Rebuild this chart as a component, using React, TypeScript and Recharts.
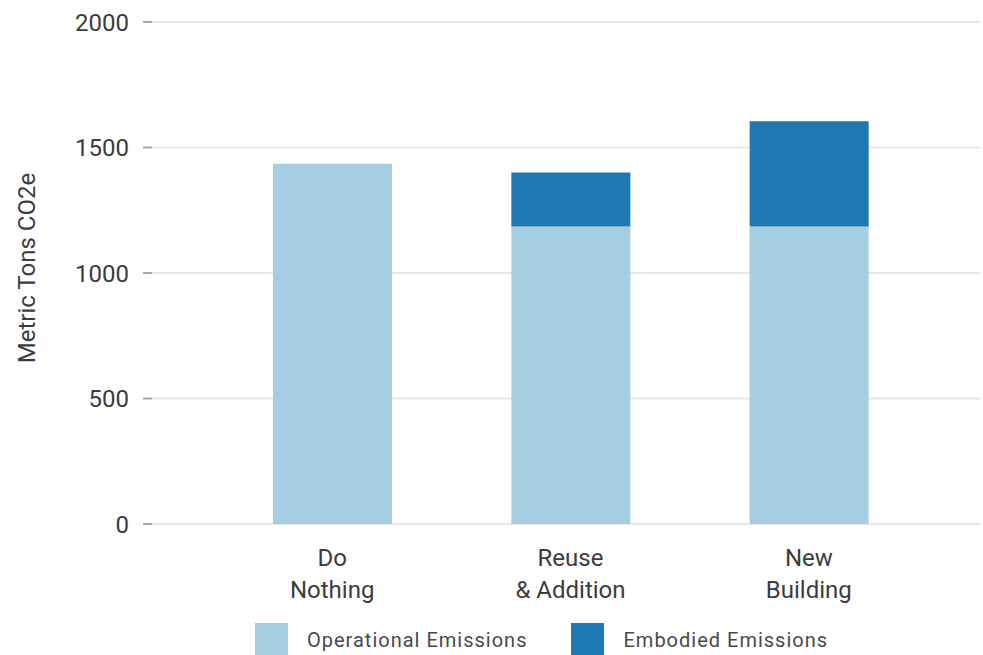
import { BarChart, Bar, XAxis, YAxis, CartesianGrid, Legend } from 'recharts';

const categories = ['Do Nothing', 'Reuse & Addition', 'New Building'];
const categoryLines = [
  ['Do', 'Nothing'],
  ['Reuse', '& Addition'],
  ['New', 'Building'],
];
const operational = [1435, 1185, 1185];
const embodied = [0, 215, 420];
const yTicks = [0, 500, 1000, 1500, 2000];

const series = [
  { key: 'operational', name: 'Operational Emissions', color: '#a6cee3' },
  { key: 'embodied', name: 'Embodied Emissions', color: '#1f78b4' },
];

const data = categories.map((name, i) => ({
  name,
  operational: operational[i],
  embodied: embodied[i],
}));

const FONT = 'Roboto, sans-serif';

function CategoryTick({ x, y, index }: any) {
  const lines = categoryLines[index] ?? [];
  return (
    <text x={x} y={y} textAnchor="middle" fill="#3c3c3c" fontSize={24} fontFamily={FONT}>
      {lines.map((line, i) => (
        <tspan key={line} x={x} dy={i === 0 ? 42 : 32}>
          {line}
        </tspan>
      ))}
    </text>
  );
}

function LegendContent() {
  return (
    <div style={{ height: 0, overflow: 'visible', position: 'relative' }}>
      <div style={{ display: 'flex', alignItems: 'center', paddingLeft: 255 }}>
        {series.map((s, i) => (
          <div
            key={s.key}
            style={{ display: 'flex', alignItems: 'center', marginRight: i === 0 ? 44 : 0 }}
          >
            <div style={{ width: 33, height: 33, background: s.color }} />
            <span
              style={{
                marginLeft: 19,
                fontFamily: FONT,
                fontSize: 20,
                letterSpacing: 1,
                color: '#4a4a4a',
              }}
            >
              {s.name}
            </span>
          </div>
        ))}
      </div>
    </div>
  );
}

export default function App() {
  return (
    <div style={{ position: 'absolute', left: 0, top: 0, background: '#fff' }}>
      <BarChart
        width={983}
        height={660}
        data={data}
        margin={{ top: 22, right: 3, bottom: 56, left: 0 }}
      >
        <CartesianGrid vertical={false} stroke="#e8e8e8" strokeWidth={2} />
        <XAxis
          dataKey="name"
          axisLine={false}
          tickLine={false}
          tickSize={0}
          tickMargin={0}
          height={80}
          padding={{ left: 61, right: 52 }}
          tick={<CategoryTick />}
          interval={0}
        />
        <YAxis
          width={152}
          domain={[0, 2000]}
          ticks={yTicks}
          axisLine={false}
          tickSize={9}
          tickMargin={14}
          tickLine={{ stroke: '#a8a8a8', strokeWidth: 2 }}
          tick={{ fill: '#3c3c3c', fontSize: 24, fontFamily: FONT }}
          label={{
            value: 'Metric Tons CO2e',
            angle: -90,
            position: 'center',
            dx: -50,
            dy: -5,
            fill: '#3c3c3c',
            fontSize: 24,
            fontFamily: FONT,
          }}
        />
        <Legend
          verticalAlign="bottom"
          content={<LegendContent />}
          wrapperStyle={{ left: 0, top: 623, width: 983 }}
        />
        {series.map((s) => (
          <Bar
            key={s.key}
            dataKey={s.key}
            name={s.name}
            stackId="total"
            fill={s.color}
            barSize={119}
            isAnimationActive={false}
          />
        ))}
      </BarChart>
    </div>
  );
}
